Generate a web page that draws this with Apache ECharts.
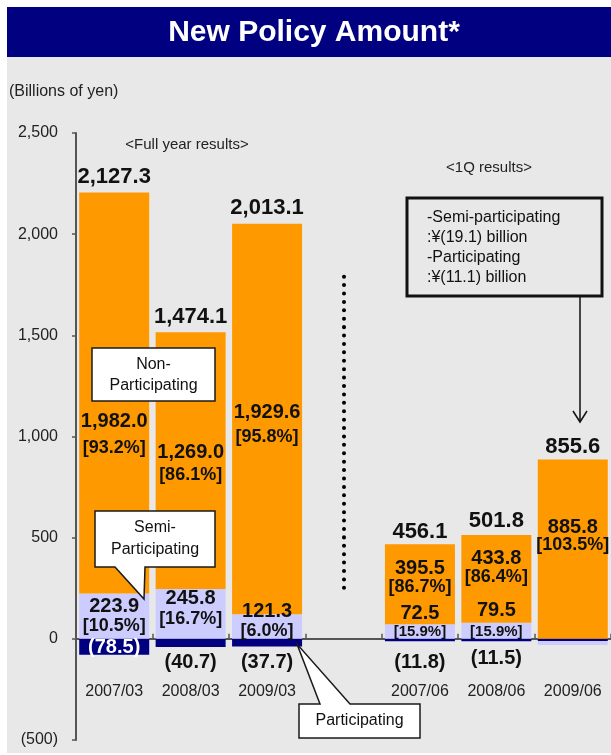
<!DOCTYPE html>
<html>
<head>
<meta charset="utf-8">
<script src="https://cdn.jsdelivr.net/npm/echarts@6/dist/echarts.min.js"></script>
<style>
  html, body { margin: 0; padding: 0; background: #fff; }
  #chart { width: 611px; height: 755px; }
</style>
</head>
<body>
<div id="chart"></div>
<script>
  // values (billions of yen)
  var categories = ['2007/03', '2008/03', '2009/03', '', '2007/06', '2008/06', '2009/06']
  var participating = [-78.5, -40.7, -37.7, null, -11.8, -11.5, -11.1]
  var semiParticipating = [223.9, 245.8, 121.3, null, 72.5, 79.5, -19.1]
  var nonParticipating = [1982.0, 1269.0, 1929.6, null, 395.5, 433.8, 885.8]
  var totals = [2127.3, 1474.1, 2013.1, null, 456.1, 501.8, 855.6]
  var nonShare = ['93.2%', '86.1%', '95.8%', null, '86.7%', '86.4%', '103.5%']
  var semiShare = ['10.5%', '16.7%', '6.0%', null, '15.9%', '15.9%', null]

  var FONT = '"Liberation Sans", Arial, sans-serif'
  var GREY = '#e8e8e8'

  function fmt(v) {
    var s = Math.abs(v).toLocaleString('en-US', { minimumFractionDigits: 1, maximumFractionDigits: 1 })
    return v < 0 ? '(' + s + ')' : s
  }

  // label placement tweaks (per bar)
  var nonLine = [27, 23, 25, 0, 19, 19, 18]
  var nonDy = [42, 3, 5.5, 0, -6.6, -11, -13]
  var semiLineA = [19, 21, 20, 0, 22, 28, 0]
  var semiLineB = [19, 21, 20, 0, 16, 16, 0]
  var semiDy = [0, -5, -5.5, 0, -10.5, -12.8, 0]
  var partDist = [0, 5, 5.6, 0, 10.8, 7, 0]
  var totalDist = [4.5, 4.6, 4.5, 0, 1, 3, 1.6]

  var partData = participating.map(function (v, i) {
    var label = { show: false }
    if (v !== null && i !== 6) {
      label = i === 0
        ? { show: true, position: 'inside', offset: [0, 1], color: '#fff' }
        : { show: true, position: 'bottom', distance: partDist[i], color: '#111' }
      label.fontSize = 20
      label.fontWeight = 'bold'
      label.fontFamily = FONT
      label.formatter = fmt(v)
    }
    return { value: v, label: label }
  })

  var semiData = semiParticipating.map(function (v, i) {
    var label = { show: false }
    if (semiShare[i]) {
      var small = i >= 4
      label = {
        show: true, position: 'inside', offset: [0, semiDy[i]],
        formatter: '{a|' + fmt(v) + '}\n{b|[' + semiShare[i] + ']}',
        rich: {
          a: { fontSize: 20, fontWeight: 'bold', fontFamily: FONT, color: '#111', lineHeight: semiLineA[i] },
          b: { fontSize: small ? 15 : 18, fontWeight: 'bold', fontFamily: FONT, color: '#111', lineHeight: semiLineB[i] }
        }
      }
    }
    return { value: v, label: label }
  })

  var nonData = nonParticipating.map(function (v, i) {
    var label = { show: false }
    if (v !== null) {
      label = {
        show: true, position: 'inside', offset: [0, nonDy[i]],
        formatter: '{a|' + fmt(v) + '}\n{b|[' + nonShare[i] + ']}',
        rich: {
          a: { fontSize: 20, fontWeight: 'bold', fontFamily: FONT, color: '#111', lineHeight: nonLine[i] },
          b: { fontSize: 18, fontWeight: 'bold', fontFamily: FONT, color: '#111', lineHeight: nonLine[i] }
        }
      }
    }
    return { value: v, label: label }
  })

  var totalData = totals.map(function (v, i) {
    return {
      value: v === null ? null : 0,
      label: v === null ? { show: false } : {
        show: true, position: 'top', distance: totalDist[i],
        fontSize: 22, fontWeight: 'bold', fontFamily: FONT, color: '#111',
        formatter: fmt(v)
      }
    }
  })

  var chart = echarts.init(document.getElementById('chart'))
  chart.setOption({
    animation: false,
    backgroundColor: '#fff',
    grid: { left: 76, right: 0, top: 133, bottom: 15, outerBoundsMode: 'none', containLabel: false },
    xAxis: {
      type: 'category',
      data: categories,
      axisLine: { onZero: true, lineStyle: { color: '#555', width: 2 } },
      axisTick: { show: true, inside: true, length: 5, lineStyle: { color: '#555', width: 1.5 } },
      axisLabel: { margin: -56, fontSize: 16, color: '#222', fontFamily: FONT }
    },
    yAxis: {
      type: 'value',
      min: -500,
      max: 2500,
      interval: 500,
      splitLine: { show: false },
      axisLine: { show: true, lineStyle: { color: '#555', width: 2 } },
      axisTick: { show: true, length: 4, lineStyle: { color: '#555', width: 1.5 } },
      axisLabel: {
        margin: 18, fontSize: 16, color: '#222', fontFamily: FONT,
        formatter: function (v) {
          return v < 0 ? '(' + (-v).toLocaleString('en-US') + ')' : v.toLocaleString('en-US')
        }
      }
    },
    series: [
      {
        name: 'Participating', type: 'bar', stack: 'amt', barWidth: 70,
        itemStyle: { color: '#000080' }, data: partData
      },
      {
        name: 'Semi-Participating', type: 'bar', stack: 'amt', barWidth: 70,
        itemStyle: { color: '#ccccff' }, data: semiData
      },
      {
        name: 'Non-Participating', type: 'bar', stack: 'amt', barWidth: 70,
        itemStyle: { color: '#ff9900' }, data: nonData
      },
      {
        name: 'Total', type: 'bar', stack: 'amt', barWidth: 70,
        itemStyle: { color: 'rgba(0,0,0,0)' }, data: totalData,
        markLine: {
          silent: true, symbol: 'none', label: { show: false },
          lineStyle: { color: '#000', type: [0.01, 8.4], width: 4, cap: 'round' },
          data: [[{ coord: [3, 1790] }, { coord: [3, 215] }]]
        }
      }
    ],
    graphic: [
      { type: 'rect', z: -10, silent: true, shape: { x: 7, y: 57, width: 604, height: 696 }, style: { fill: GREY } },
      { type: 'rect', z: -10, silent: true, shape: { x: 7, y: 7, width: 604, height: 50 }, style: { fill: '#000080' } },
      { type: 'text', x: 314, y: 33, style: { text: 'New Policy Amount*', fill: '#fff', font: 'bold 30px ' + FONT, align: 'center', verticalAlign: 'middle' } },
      { type: 'text', x: 9, y: 92, style: { text: '(Billions of yen)', fill: '#222', font: '16px ' + FONT, align: 'left', verticalAlign: 'middle' } },
      { type: 'text', x: 187, y: 145, style: { text: '<Full year results>', fill: '#222', font: '15px ' + FONT, align: 'center', verticalAlign: 'middle' } },
      { type: 'text', x: 489, y: 168, style: { text: '<1Q results>', fill: '#222', font: '15px ' + FONT, align: 'center', verticalAlign: 'middle' } },
      // Non-participating callout
      { type: 'rect', z: 100, shape: { x: 92, y: 348, width: 123, height: 53 }, style: { fill: '#fff', stroke: '#1a1a1a', lineWidth: 1.5 } },
      { type: 'text', z: 101, x: 153.5, y: 375, style: { text: 'Non-\nParticipating', fill: '#111', font: '16px ' + FONT, lineHeight: 21, align: 'center', verticalAlign: 'middle' } },
      // Semi-participating callout
      { type: 'polygon', z: 100, shape: { points: [[95, 511], [215, 511], [215, 567], [145, 567], [144, 599], [115, 567], [95, 567]] }, style: { fill: '#fff', stroke: '#1a1a1a', lineWidth: 1.5 } },
      { type: 'text', z: 101, x: 155, y: 539, style: { text: 'Semi-\nParticipating', fill: '#111', font: '16px ' + FONT, lineHeight: 22, align: 'center', verticalAlign: 'middle' } },
      // Participating callout
      { type: 'polygon', z: 100, shape: { points: [[299, 704], [320, 704], [297, 644], [350, 704], [420, 704], [420, 738], [299, 738]] }, style: { fill: '#fff', stroke: '#1a1a1a', lineWidth: 1.5 } },
      { type: 'text', z: 101, x: 359.5, y: 721, style: { text: 'Participating', fill: '#111', font: '16px ' + FONT, align: 'center', verticalAlign: 'middle' } },
      // 1Q note box
      { type: 'rect', z: 100, shape: { x: 407, y: 198, width: 195, height: 98 }, style: { fill: GREY, stroke: '#111', lineWidth: 3 } },
      { type: 'text', z: 101, x: 427, y: 248, style: { text: '-Semi-participating\n:\u00a5(19.1) billion\n-Participating\n:\u00a5(11.1) billion', fill: '#111', font: '16px ' + FONT, lineHeight: 20, align: 'left', verticalAlign: 'middle' } },
      { type: 'line', z: 100, shape: { x1: 580, y1: 296, x2: 580, y2: 422 }, style: { stroke: '#111', lineWidth: 1.5 } },
      { type: 'polyline', z: 100, shape: { points: [[573, 411], [580, 422], [587, 411]] }, style: { stroke: '#111', lineWidth: 1.5, fill: null } }
    ]
  })
</script>
</body>
</html>
